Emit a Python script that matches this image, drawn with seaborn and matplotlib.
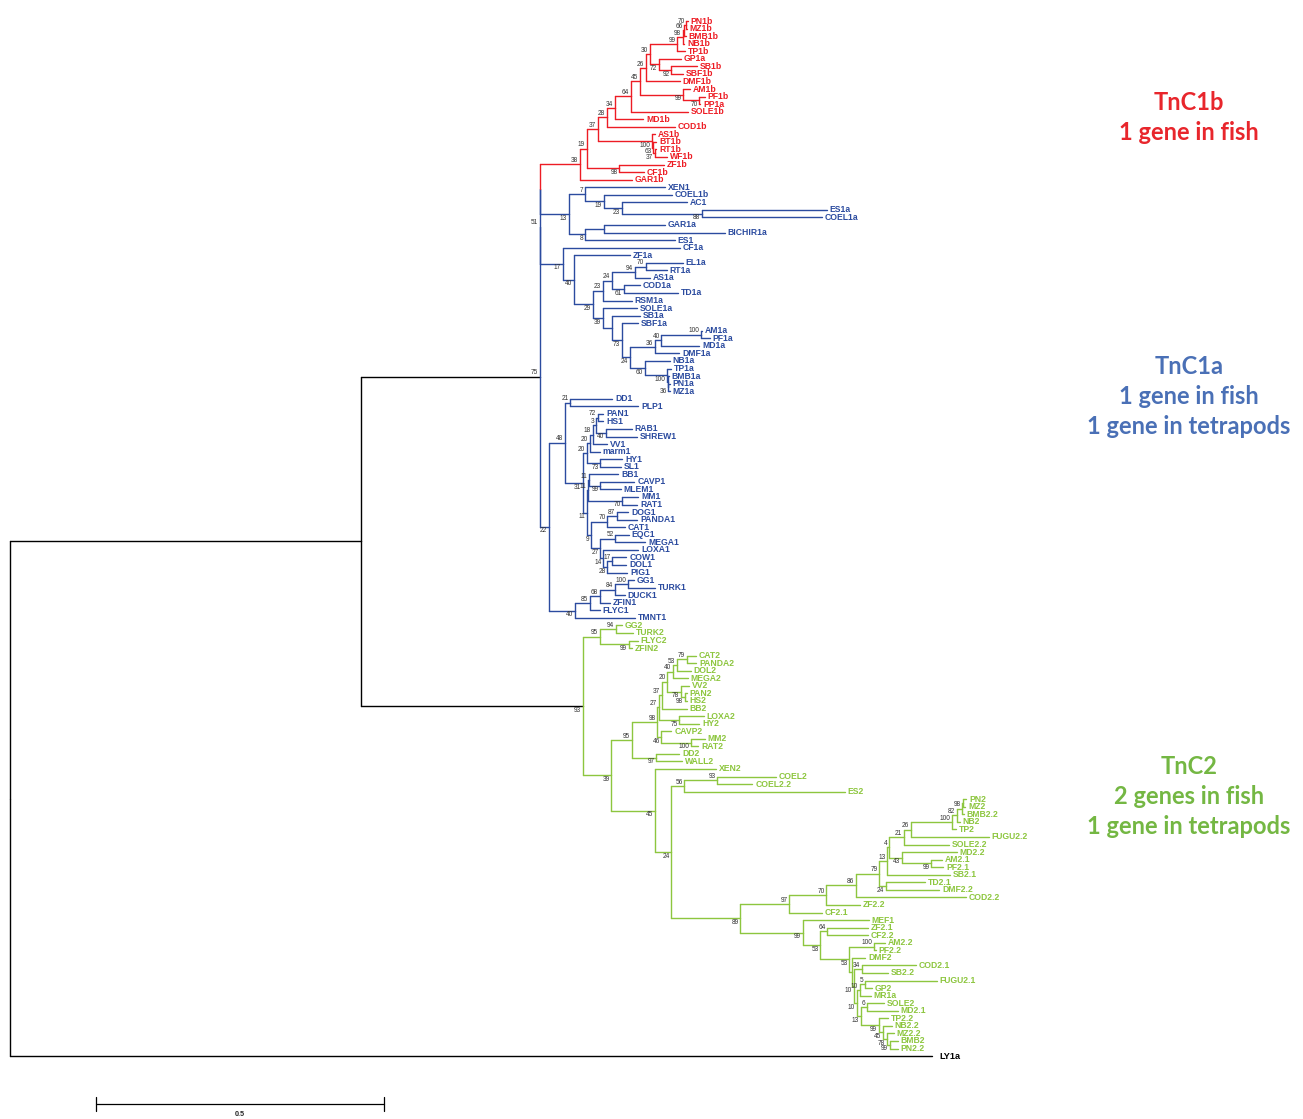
import matplotlib
matplotlib.use("Agg")
import matplotlib.pyplot as plt
from matplotlib.transforms import blended_transform_factory
import pandas as pd
import seaborn as sns

# ---- tree data (newick, branch lengths in subst./site, internal labels = bootstrap) ----
TNC1B = """
(
  (
    (
      (
        (
          (
            (
              (
                (
                  (
                    (
                      (
                        (PN1b:0.003, MZ1b:0.001)70:0.003,
                        BMB1b:0.002
                      )66:0.003,
                      NB1b:0.003
                    )98:0.010,
                    TP1b:0.014
                  )99:0.047,
                  (GP1a:0.038, (SB1b:0.045, SBF1b:0.021)92:0.021)72:0.016
                )30:0.007,
                DMF1b:0.059
              )26:0.010,
              (AM1b:0.012, (PF1b:0.009, PP1a:0.001)70:0.028)99:0.075
            )45:0.016,
            SOLE1b:0.099
          )64:0.028,
          MD1b:0.049
        )34:0.014,
        COD1b:0.118
      )28:0.016,
      (AS1b:0.005, (BT1b:0.005, (RT1b:0.002, WF1b:0.021)37:0.003)63:0.003)100:0.094
    )37:0.019,
    (ZF1b:0.078, CF1b:0.043)98:0.057
  )19:0.012,
  GAR1b:0.090
)38:0.069
"""

TNC1A_BASAL = """
(
  (XEN1:0.139,
    (COEL1b:0.118,
      (AC1:0.113, (ES1a:0.217, COEL1a:0.208)88:0.139)23:0.031
    )19:0.033
  )7:0.028,
  ((GAR1a:0.106, BICHIR1a:0.210):0.033, ES1:0.156)8:0.028
)13:0.050
"""

TNC1A_FISH = """
(CF1a:0.203,
  (ZF1a:0.097,
    (
      (
        (((EL1a:0.064, RT1a:0.036)70:0.019, AS1a:0.026)94:0.040,
         (COD1a:0.028, TD1a:0.094)61:0.021)24:0.016,
        RSM1a:0.050
      )23:0.017,
      (SOLE1a:0.059,
        (SB1a:0.049,
          (SBF1a:0.028,
            (
              (((AM1a:0.003, PF1a:0.016)100:0.068, MD1a:0.066)40:0.012, DMF1a:0.043)36:0.043,
              (NB1a:0.043, (TP1a:0.007, (BMB1a:0.002, (PN1a:0.002, MZ1a:0.002)36:0.001):0.002)100:0.038)60:0.026
            )24:0.014
          )73:0.017
        ):0.016
      )39:0.017
    )29:0.033
  )40:0.019
)17:0.040
"""

TNC1A_LATE = """
(
  (
    (DD1:0.073, PLP1:0.118)21:0.009,
    (
      (
        (
          (
            ((PAN1:0.010, HS1:0.010)72:0.003, (RAB1:0.045, SHREW1:0.054)40:0.017)3:0.005,
            VV1:0.024
          )18:0.005,
          marm1:0.017
        )20:0.005,
        (HY1:0.038, SL1:0.035)73:0.023
      )20:0.007,
      (
        (
          (BB1:0.050, (CAVP1:0.059, MLEM1:0.035)99:0.019)11:0.002,
          (MM1:0.028, RAT1:0.026)70:0.059
        )11:0.002,
        (
          ((DOG1:0.019, PANDA1:0.035)87:0.017, CAT1:0.031)70:0.028,
          ((EQC1:0.023, MEGA1:0.052)52:0.026,
           (LOXA1:0.061, ((COW1:0.024, DOL1:0.024)17:0.009, PIG1:0.035)28:0.007)14:0.005
          )27:0.016
        )9:0.007
      )11:0.007
    )31:0.031
  )48:0.028,
  (
    ((((GG1:0.010, TURK1:0.047)100:0.023, DUCK1:0.017)84:0.026, ZFIN1:0.017)68:0.017, FLYC1:0.017)85:0.026,
    TMNT1:0.104
  )40:0.045
)22:0.016
"""

TNC2 = """
(
  ((GG2:0.010, TURK2:0.030)94:0.028, (FLYC2:0.016, ZFIN2:0.005)99:0.050)95:0.030,
  (
    (
      (
        (
          (
            (
              (((CAT2:0.016, PANDA2:0.016)79:0.017, DOL2:0.024)53:0.007, MEGA2:0.026)40:0.010,
              (VV2:0.014, (PAN2:0.003, HS2:0.003)98:0.007)78:0.024
            )20:0.009,
            BB2:0.043
          )37:0.005,
          (LOXA2:0.042, HY2:0.035)75:0.035
        )27:0.003,
        (CAVP2:0.017, (MM2:0.023, RAT2:0.012)100:0.052)46:0.007
      )98:0.045,
      (DD2:0.040, WALL2:0.045)97:0.043
    )95:0.035,
    (XEN2:0.106,
      (
        ((COEL2:0.102, COEL2.2:0.061)93:0.057, ES2:0.278)56:0.023,
        (
          (
            (
              (
                (
                  (
                    (
                      (
                        (
                          ((((PN2:0.005, MZ2:0.003):0.002, BMB2.2:0.003)98:0.009, NB2:0.005)82:0.009, TP2:0.007)100:0.071,
                          FUGU2.2:0.135
                        )26:0.012,
                        SOLE2.2:0.078
                      )21:0.026,
                      (MD2.2:0.095, (AM2.1:0.019, PF2.1:0.021)99:0.050)43:0.023
                    )4:0.003,
                    SB2.1:0.109
                  )13:0.014,
                  (TD2.1:0.068, DMF2.2:0.092)24:0.012
                )79:0.040,
                COD2.2:0.191
              )86:0.052,
              ZF2.2:0.059
            )70:0.064,
            CF2.1:0.056
          )97:0.085,
          (MEF1:0.115,
            ((ZF2.1:0.071, CF2.2:0.071)64:0.012,
              ((AM2.2:0.019, PF2.2:0.003)100:0.043,
                (DMF2:0.023,
                  ((COD2.1:0.094, SB2.2:0.045)34:0.014,
                    (
                      ((FUGU2.1:0.125, GP2:0.012)5:0.009, MR1a:0.019)10:0.005,
                      ((SOLE2:0.031, MD2.1:0.054)6:0.010,
                       (TP2.2:0.016,
                         (NB2.2:0.016,
                           (MZ2.2:0.012, (BMB2:0.014, PN2.2:0.014)99:0.005)78:0.007
                         )45:0.007
                       )99:0.031
                      )13:0.007
                    )10:0.005
                  )10:0.003
                ):0.005
              )53:0.050
            )53:0.031
          )99:0.108
        )89:0.120
      )24:0.028
    )45:0.076
  )39:0.050
)93:0.385
"""

STEM_75 = 0.311
STEM_INGROUP = 0.609
OUTGROUP = "LY1a"
OUTGROUP_LEN = 1.601
SCALE_LEN = 0.5

TITLE_TNC1B = ["TnC1b", "1 gene in fish"]
TITLE_TNC1A = ["TnC1a", "1 gene in fish", "1 gene in tetrapods"]
TITLE_TNC2 = ["TnC2", "2 genes in fish", "1 gene in tetrapods"]

RED, BLUE, GREEN, BLACK = "#ED1C24", "#2B4B9F", "#8DC63F", "#000000"
RED_T, BLUE_T, GREEN_T = "#E8262C", "#4A70B6", "#74B743"


def parse_newick(text):
    s = "".join(text.split())
    pos = 0

    def node():
        nonlocal pos
        kids = []
        if s[pos] == "(":
            pos += 1
            kids.append(node())
            while s[pos] == ",":
                pos += 1
                kids.append(node())
            pos += 1
        start = pos
        while pos < len(s) and s[pos] not in ":,();":
            pos += 1
        name = s[start:pos]
        length = 0.0
        if pos < len(s) and s[pos] == ":":
            pos += 1
            start = pos
            while pos < len(s) and s[pos] not in ",();":
                pos += 1
            length = float(s[start:pos])
        return {"name": name, "len": length, "children": kids}

    return node()


def paint(node, color):
    node["color"] = color
    for c in node["children"]:
        paint(c, color)


tnc1b = parse_newick(TNC1B)
paint(tnc1b, "red")
basal = parse_newick(TNC1A_BASAL)
paint(basal, "blue")
fish = parse_newick(TNC1A_FISH)
paint(fish, "blue")
late = parse_newick(TNC1A_LATE)
paint(late, "blue")
tnc2 = parse_newick(TNC2)
paint(tnc2, "green")
tnc2["color"] = "black"

n_x = {"name": "", "len": 0.0, "children": [tnc1b, basal], "color": "blue"}
n51 = {"name": "51", "len": 0.0, "children": [n_x, fish], "color": "blue"}
n75 = {"name": "75", "len": STEM_75, "children": [n51, late], "color": "black"}
ingroup = {"name": "", "len": STEM_INGROUP, "children": [n75, tnc2], "color": "black"}
outgroup = {"name": OUTGROUP, "len": OUTGROUP_LEN, "children": [], "color": "black"}
root = {"name": "", "len": 0.0, "children": [ingroup, outgroup], "color": "black"}

counter = [0]


def layout(node, x0):
    node["x"] = x0 + node["len"]
    if not node["children"]:
        node["y"] = counter[0]
        counter[0] += 1
    else:
        for c in node["children"]:
            layout(c, node["x"])
        node["y"] = (node["children"][0]["y"] + node["children"][-1]["y"]) / 2


layout(root, 0.0)

rows, tips, boots = [], [], []


def collect(node, parent_x, upper):
    if parent_x is not None and node["x"] > parent_x:
        k = len(rows)
        rows.append((k, parent_x, node["y"], node["color"]))
        rows.append((k, node["x"], node["y"], node["color"]))
    if not node["children"]:
        tips.append(node)
        return
    if node["name"]:
        boots.append((node, upper))
    for i, c in enumerate(node["children"]):
        k = len(rows)
        rows.append((k, node["x"], node["y"], c["color"]))
        rows.append((k, node["x"], c["y"], c["color"]))
        collect(c, node["x"], i == 0)


collect(root, None, True)
segs = pd.DataFrame(rows, columns=["seg", "x", "y", "clade"])

sns.set_theme(style="white")
plt.rcParams["font.family"] = ["Liberation Sans", "DejaVu Sans"]

fig = plt.figure(figsize=(13.03, 11.19), dpi=100)
ax = fig.add_axes([0, 0, 1, 1])
palette = {"red": RED, "blue": BLUE, "green": GREEN, "black": BLACK}
sns.lineplot(data=segs, x="x", y="y", units="seg", estimator=None, hue="clade",
             palette=palette, sort=False, legend=False, linewidth=1.0, ax=ax)

for t in tips:
    if t["name"] == OUTGROUP:
        ax.text(t["x"] + 0.012, t["y"], t["name"], color=BLACK, fontsize=6.6,
                fontweight="bold", va="center", ha="left")
    else:
        ax.text(t["x"] + 0.005, t["y"], t["name"], color=palette[t["color"]],
                fontsize=6.2, fontweight="bold", va="center", ha="left")

for node, upper in boots:
    dy = -0.5 if upper else 0.55
    ax.text(node["x"] - 0.003, node["y"] + dy, node["name"], color="#333333",
            fontsize=4.7, va="center", ha="right")

# scale bar
tr = blended_transform_factory(ax.transData, ax.transAxes)
x0 = 0.149
ax.plot([x0, x0 + SCALE_LEN], [0.0134, 0.0134], color=BLACK, lw=0.9, transform=tr)
for xx in (x0, x0 + SCALE_LEN):
    ax.plot([xx, xx], [0.0074, 0.0194], color=BLACK, lw=0.9, transform=tr)
ax.text(x0 + SCALE_LEN / 2, 0.004, str(SCALE_LEN), ha="center", va="center",
        fontsize=5.2, fontweight="bold", transform=tr)

ax.set_xlim(-0.01736, 2.2448)
ax.set_ylim(145.33, -2.78)
ax.axis("off")

# clade titles
for lines, col, y0 in [(TITLE_TNC1B, RED_T, 103), (TITLE_TNC1A, BLUE_T, 367), (TITLE_TNC2, GREEN_T, 767)]:
    for i, line in enumerate(lines):
        fig.text(1189 / 1303, 1 - (y0 + 30 * i) / 1119, line, ha="center", va="center",
                 fontsize=17, color=col, fontweight="bold", family=["Lato", "DejaVu Sans"])

fig.savefig("out.png", dpi=100, facecolor="white")
